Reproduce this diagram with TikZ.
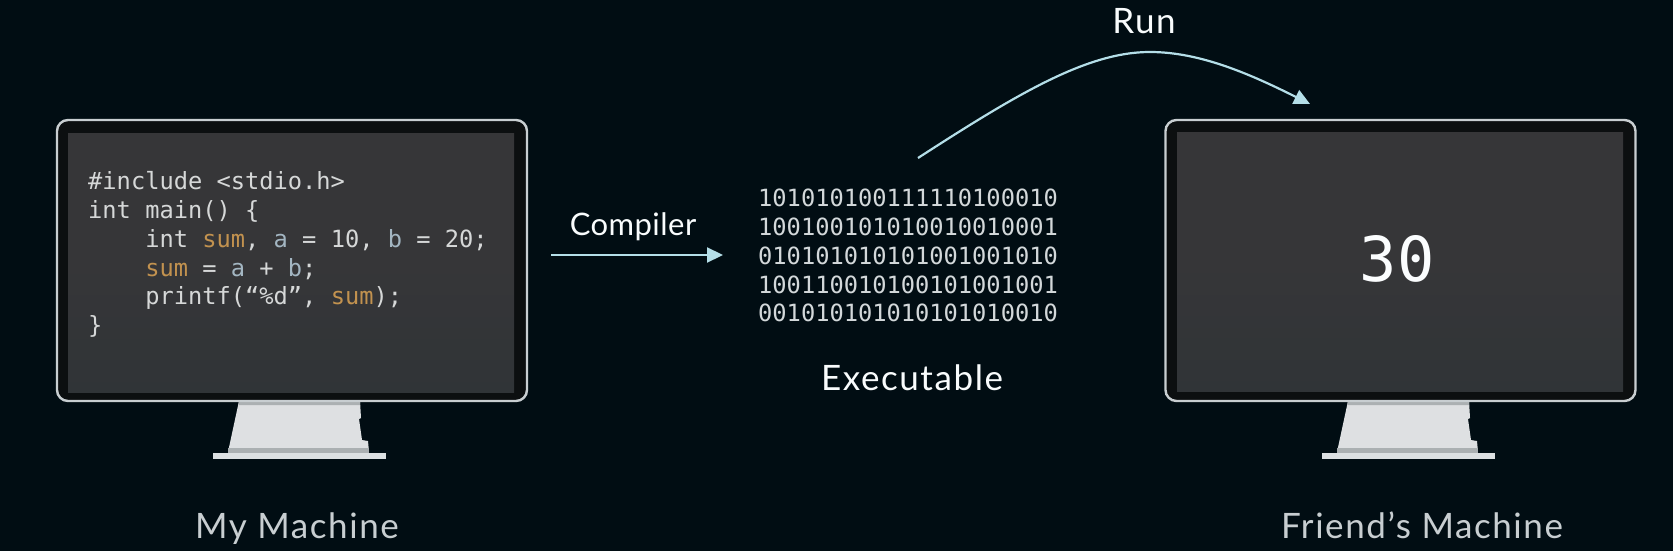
\documentclass[tikz,border=0pt]{standalone}
\usepackage{fontspec}
\setmainfont{Lato}
\setmonofont{DejaVu Sans Mono}
\newfontfamily\widelato[LetterSpace=4.5]{Lato}
\newfontfamily\tightlato[LetterSpace=1.5]{Lato}
\usetikzlibrary{arrows.meta}
\definecolor{bgdark}{HTML}{010D13}
\definecolor{bezel}{HTML}{0C0F10}
\definecolor{rim}{HTML}{C8CED1}
\definecolor{panel}{HTML}{363638}
\definecolor{panellow}{HTML}{303437}
\definecolor{codetext}{HTML}{D6D8D8}
\definecolor{sumtext}{HTML}{C2924F}
\definecolor{vartext}{HTML}{A3B6C2}
\definecolor{arrowblue}{HTML}{B4DEE8}
\definecolor{standlight}{HTML}{DEE0E2}
\definecolor{standdark}{HTML}{ABB0B2}
\newcommand{\kwsum}{\textcolor{sumtext}{sum}}
\newcommand{\kwvar}[1]{\textcolor{vartext}{#1}}
\tikzset{x=1pt, y=-1pt,
monitor/.style={ % Outer case of each machine
draw=rim, line width=2.4pt, fill=bezel, rounded corners=11pt,
minimum width=470pt, minimum height=281pt},
screen/.style={
top color=panel, bottom color=panellow, middle color=panel, minimum width=446pt, minimum height=259pt},
monotext/.style={
font=\fontsize{23.7}{28.75}\selectfont\ttfamily, align=left, inner sep=0pt},
caption/.style={
font=\fontsize{35}{40}\selectfont\widelato, inner sep=0pt, anchor=base},
flow/.style={
draw=arrowblue, line width=2.2pt, -{Triangle[length=16pt,width=15pt]}}}
\begin{document}
\begin{tikzpicture}
\useasboundingbox (0,0) rectangle (1673,551);
\fill[bgdark] (0,0) rectangle (1673,551);
% stands
\foreach \sx in {300,1409} {
\fill[standlight] (\sx-61,401) -- (\sx+60,401) -- (\sx+61,418) -- (\sx+59,419) -- (\sx+62,440) -- (\sx+68,441) -- (\sx+69,452) -- (\sx-72,452) -- cycle;
\fill[standdark] (\sx-61,401) -- (\sx+60,401) -- (\sx+60,405) -- (\sx-61.5,405) -- cycle;
\fill[standdark] (\sx-72,448) -- (\sx+69,448) -- (\sx+69,453) -- (\sx-72,453) -- cycle;
\fill[standlight!95!arrowblue] (\sx-87,453) rectangle (\sx+86,459);
}
\node[monitor] (mine) at (292,260.5) {};
\node[screen] (minescreen) at (291,262.5) {};
\node[monitor] (friend) at (1400.5,260.5) {};
\node[screen] (friendscreen) at (1400,262) {};
\node[monotext, text=codetext, anchor=north west] (code) at (88,171.5) {\#include <stdio.h>\\
int main() \{\\
\ \ \ \ int \kwsum, \kwvar{a} = 10, \kwvar{b} = 20;\\
\ \ \ \ \kwsum{} = \kwvar{a} + \kwvar{b};\\
\ \ \ \ printf(“\%d”, \kwsum);\\
\}};
\node[monotext, text=codetext!90!arrowblue, anchor=north west] (binary) at (758,189) {101010100111110100010\\
100100101010010010001\\
010101010101001001010\\
100110010100101001001\\
001010101010101010010};
\node[font=\fontsize{62}{70}\selectfont\ttfamily, text=white!95!arrowblue, inner sep=0pt] (result) at (1397,259) {30};
\node[caption, text=rim] (minelabel) at (297,538) {My Machine};
\node[caption, text=rim] (friendlabel) at (1422,538.5) {Friend’s Machine};
\node[caption, font=\fontsize{31}{36}\selectfont\tightlato, text=white!92!arrowblue] (compiler) at (633,235) {Compiler};
\node[caption, text=white!92!arrowblue] (exelabel) at (912,390) {Executable};
\node[caption, text=white!92!arrowblue] (runlabel) at (1144,34) {Run};
\coordinate (compstart) at (551,255);
\coordinate (compend) at (723,255);
\coordinate (runstart) at (918,158);
\coordinate (runtop) at (1150,52);
\coordinate (runend) at (1310,104);
\draw[flow] (compstart) -- (compend);
\draw[flow] (runstart) .. controls (1020,92) and (1088,52) .. (runtop) .. controls (1200,52) and (1250,74) .. (runend);
\end{tikzpicture}
\end{document}
